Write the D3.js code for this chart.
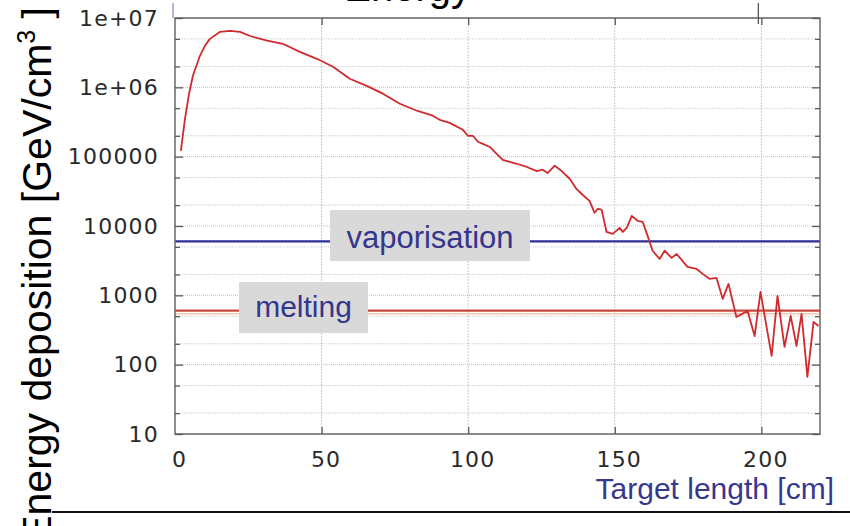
<!DOCTYPE html>
<html>
<head>
<meta charset="utf-8">
<script src="https://cdn.jsdelivr.net/npm/d3@7/dist/d3.min.js"></script>
<style>
  html, body { margin: 0; padding: 0; background: #ffffff; overflow: hidden; }
  svg { display: block; }
</style>
</head>
<body>
<svg id="chart" width="850" height="526"></svg>
<script>
// Energy deposition profile along the target (log scale)
const lengthCm = [2.0, 3.4, 4.8, 6.1, 8.5, 10.2, 11.9, 15.3, 18.7, 22.2, 25.6, 31.4, 36.8, 42.6, 48.4,
  53.9, 59.6, 65.4, 70.9, 76.7, 82.5, 87.9, 90.3, 93.7, 98.2, 99.9, 101.6, 103.3, 105.0, 107.4,
  109.7, 111.8, 114.2, 116.6, 120.0, 123.4, 125.4, 127.1, 129.5, 131.9, 134.6, 137.0, 139.1, 141.4,
  143.1, 144.2, 145.5, 147.2, 149.3, 151.7, 152.7, 154.1, 155.8, 157.8, 159.5, 161.2, 162.9, 165.3,
  167.0, 169.4, 171.1, 174.8, 177.9, 180.0, 182.3, 184.7, 186.8, 188.8, 191.5, 195.3, 197.7, 199.7,
  203.5, 205.5, 207.9, 210.0, 212.0, 213.7, 215.7, 217.8, 219.5];
const deposition = [1.21e5, 3.5e5, 8.1e5, 1.47e6, 2.85e6, 3.97e6, 5.0e6, 6.3e6, 6.5e6, 6.3e6, 5.5e6,
  4.7e6, 4.25e6, 3.25e6, 2.58e6, 1.98e6, 1.33e6, 1.05e6, 8.1e5, 5.8e5, 4.6e5, 3.9e5, 3.4e5, 3.07e5,
  2.44e5, 2.0e5, 2.0e5, 1.64e5, 1.53e5, 1.38e5, 1.10e5, 9.0e4, 8.4e4, 7.9e4, 7.1e4, 6.2e4, 6.5e4,
  5.8e4, 7.4e4, 6.2e4, 4.8e4, 3.4e4, 2.8e4, 2.3e4, 1.55e4, 1.77e4, 1.72e4, 8.2e3, 7.7e3, 9.4e3,
  8.2e3, 9.4e3, 1.40e4, 1.19e4, 1.15e4, 7.2e3, 4.4e3, 3.35e3, 4.4e3, 3.47e3, 3.95e3, 2.57e3, 2.4e3,
  2.04e3, 1.73e3, 1.78e3, 890, 1460, 488, 596, 259, 1120, 134, 980, 180, 505, 186, 540, 66.5, 413, 361];

// Threshold levels
const thresholdNames = ["vaporisation", "melting"];
const thresholdValues = [6000, 600];

// Axis ticks
const xTicks = [0, 50, 100, 150, 200];
const yTicks = [10, 100, 1000, 10000, 100000, 1e6, 1e7];
const yTickLabels = ["10", "100", "1000", "10000", "100000", "1e+06", "1e+07"];
const yMinorTicks = [20, 50, 200, 500, 2000, 5000, 2e4, 5e4, 2e5, 5e5, 2e6, 5e6];

const xTitle = "Target length [cm]";
const yTitle = "Energy deposition [GeV/cm";
const topTitle = "Energy";

const svg = d3.select("#chart");
const plot = { left: 175, right: 820, top: 18, bottom: 434 };

const x = d3.scaleLinear().domain([0, 220]).range([plot.left, plot.right]);
const y = d3.scaleLog().domain([10, 1e7]).range([plot.bottom, plot.top]);

// grid
const grid = svg.append("g");
grid.selectAll(".gmin").data(yMinorTicks).join("line")
  .attr("x1", plot.left).attr("x2", plot.right)
  .attr("y1", d => y(d)).attr("y2", d => y(d))
  .attr("stroke", "#d8d8d8").attr("stroke-width", 1).attr("stroke-dasharray", "2,1");
grid.selectAll(".gmaj").data(yTicks).join("line")
  .attr("x1", plot.left).attr("x2", plot.right)
  .attr("y1", d => y(d)).attr("y2", d => y(d))
  .attr("stroke", "#bdbdbd").attr("stroke-width", 1).attr("stroke-dasharray", "1,1");
grid.selectAll(".gx").data(xTicks.slice(1)).join("line")
  .attr("x1", d => x(d)).attr("x2", d => x(d))
  .attr("y1", plot.top).attr("y2", plot.bottom)
  .attr("stroke", "#cacaca").attr("stroke-width", 1).attr("stroke-dasharray", "2,1");

// threshold lines
const thrColors = ["#2b2d99", "#c8473d"];
thresholdValues.forEach((v, i) => {
  if (i === 1) {
    svg.append("line")
      .attr("x1", plot.left).attr("x2", plot.right)
      .attr("y1", y(v) + 3).attr("y2", y(v) + 3)
      .attr("stroke", "#f3c9ae").attr("stroke-width", 1.5);
  }
  svg.append("line")
    .attr("x1", plot.left).attr("x2", plot.right)
    .attr("y1", y(v)).attr("y2", y(v))
    .attr("stroke", thrColors[i]).attr("stroke-width", 2.2);
});

// deposition curve
const pts = lengthCm.map((d, i) => [d, deposition[i]]);
svg.append("path")
  .datum(pts)
  .attr("fill", "none")
  .attr("stroke", "#d02a2e")
  .attr("stroke-width", 1.8)
  .attr("stroke-linejoin", "round")
  .attr("d", d3.line().x(d => x(d[0])).y(d => y(d[1])));

// threshold label boxes
const boxes = [
  { x0: 330, x1: 530, y0: 210, y1: 261, base: 248, size: 31 },
  { x0: 239, x1: 368, y0: 282, y1: 333, base: 317, size: 30 }
];
thresholdNames.forEach((name, i) => {
  const b = boxes[i];
  svg.append("rect")
    .attr("x", b.x0).attr("y", b.y0)
    .attr("width", b.x1 - b.x0).attr("height", b.y1 - b.y0)
    .attr("fill", "#d9d9d9");
  svg.append("text")
    .attr("x", (b.x0 + b.x1) / 2).attr("y", b.base)
    .attr("text-anchor", "middle")
    .attr("font-family", "'Liberation Sans', Arial, sans-serif")
    .attr("font-size", b.size)
    .attr("fill", "#34368c")
    .text(name);
});

// frame
svg.append("rect")
  .attr("x", plot.left).attr("y", plot.top)
  .attr("width", plot.right - plot.left).attr("height", plot.bottom - plot.top)
  .attr("fill", "none").attr("stroke", "#6a6a6a").attr("stroke-width", 1.5);

// inward tick marks on all four sides
function styleTicks(g) {
  g.select(".domain").remove();
  g.selectAll(".tick line").attr("stroke", "#5a5a5a").attr("stroke-width", 1.3);
  g.selectAll(".tick text").remove();
}
svg.append("g").attr("transform", `translate(${plot.left},0)`)
  .call(d3.axisRight(y).tickValues(yTicks).tickSize(8)).call(styleTicks);
svg.append("g").attr("transform", `translate(${plot.left},0)`)
  .call(d3.axisRight(y).tickValues(yMinorTicks).tickSize(5)).call(styleTicks);
svg.append("g").attr("transform", `translate(${plot.right},0)`)
  .call(d3.axisLeft(y).tickValues(yTicks).tickSize(8)).call(styleTicks);
svg.append("g").attr("transform", `translate(${plot.right},0)`)
  .call(d3.axisLeft(y).tickValues(yMinorTicks).tickSize(5)).call(styleTicks);
svg.append("g").attr("transform", `translate(0,${plot.bottom})`)
  .call(d3.axisTop(x).tickValues(xTicks.slice(1)).tickSize(7)).call(styleTicks);
svg.append("g").attr("transform", `translate(0,${plot.top})`)
  .call(d3.axisBottom(x).tickValues(xTicks.slice(1)).tickSize(7)).call(styleTicks);

// tick labels
const yAxis = svg.append("g").attr("transform", `translate(${plot.left},0)`)
  .call(d3.axisLeft(y).tickValues(yTicks).tickFormat((d, i) => yTickLabels[i]).tickSize(0).tickPadding(16));
yAxis.select(".domain").remove();
yAxis.selectAll("text")
  .attr("font-family", "'DejaVu Sans', sans-serif").attr("font-size", 22)
  .attr("letter-spacing", 1.2).attr("fill", "#2a2a2a");

const xAxis = svg.append("g").attr("transform", `translate(4,${plot.bottom})`)
  .call(d3.axisBottom(x).tickValues(xTicks).tickSize(0).tickPadding(17));
xAxis.select(".domain").remove();
xAxis.selectAll("text")
  .attr("font-family", "'DejaVu Sans', sans-serif").attr("font-size", 22)
  .attr("letter-spacing", 1.2).attr("fill", "#2a2a2a");

// x axis title
svg.append("text")
  .attr("x", 834).attr("y", 499)
  .attr("text-anchor", "end")
  .attr("font-family", "'Liberation Sans', Arial, sans-serif")
  .attr("font-size", 30)
  .attr("fill", "#36388e")
  .text(xTitle);

// y axis title
const yt = svg.append("text")
  .attr("transform", "translate(51,7) rotate(-90)")
  .attr("text-anchor", "end")
  .attr("font-family", "'Liberation Sans', Arial, sans-serif")
  .attr("font-size", 41)
  .attr("fill", "#000");
yt.append("tspan").text(yTitle);
yt.append("tspan").attr("font-size", 25).attr("dy", -16).text("3");
yt.append("tspan").attr("dy", 16).text(" ]");

// heading above the plot (mostly outside the view)
svg.append("text")
  .attr("x", 471).attr("y", 1)
  .attr("text-anchor", "end")
  .attr("font-family", "'Liberation Sans', Arial, sans-serif")
  .attr("font-size", 40)
  .attr("fill", "#000")
  .text(topTitle);

// slide decorations
svg.append("line")
  .attr("x1", 173).attr("x2", 173).attr("y1", 3).attr("y2", 18)
  .attr("stroke", "#b4b4e2").attr("stroke-width", 2);
svg.append("line")
  .attr("x1", x(200) - 3).attr("x2", x(200) - 3).attr("y1", 3).attr("y2", 24)
  .attr("stroke", "#555").attr("stroke-width", 1.3);
svg.append("line")
  .attr("x1", 52).attr("x2", 850).attr("y1", 512).attr("y2", 512)
  .attr("stroke", "#111").attr("stroke-width", 2);
</script>
</body>
</html>
